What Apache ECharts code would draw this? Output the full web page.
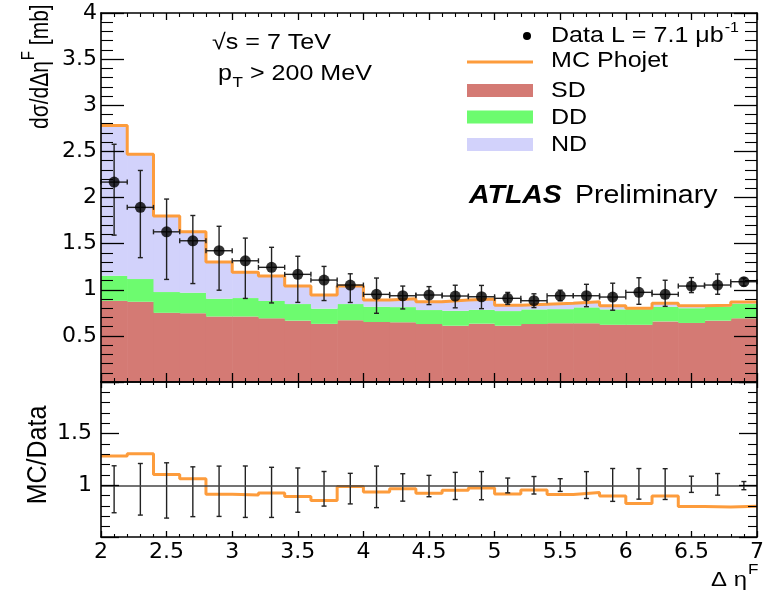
<!DOCTYPE html>
<html>
<head>
<meta charset="utf-8">
<script src="https://cdn.jsdelivr.net/npm/echarts@6/dist/echarts.min.js"></script>
<style>
  html, body { margin: 0; padding: 0; background: #fff; }
  #chart { width: 767px; height: 590px; }
</style>
</head>
<body>
<div id="chart"></div>
<script>
// Forward-gap distribution, bins of 0.2 in Δη^F from 2 to 7
const etaCenters = [2.1, 2.3, 2.5, 2.7, 2.9, 3.1, 3.3, 3.5, 3.7, 3.9, 4.1, 4.3, 4.5,
                    4.7, 4.9, 5.1, 5.3, 5.5, 5.7, 5.9, 6.1, 6.3, 6.5, 6.7, 6.9];
const binHalfWidth = 0.1;

// Phojet components [mb]
const sdValues = [0.88, 0.87, 0.75, 0.745, 0.71, 0.71, 0.69, 0.665, 0.63, 0.67, 0.65, 0.647, 0.628,
                  0.61, 0.632, 0.61, 0.628, 0.636, 0.636, 0.62, 0.62, 0.657, 0.64, 0.665, 0.69];
const ddValues = [0.272, 0.246, 0.225, 0.223, 0.193, 0.20, 0.188, 0.18, 0.165, 0.175, 0.166, 0.165, 0.152,
                  0.162, 0.151, 0.159, 0.159, 0.154, 0.173, 0.167, 0.17, 0.159, 0.16, 0.151, 0.158];
const ndValues = [1.628, 1.354, 0.825, 0.662, 0.397, 0.28, 0.272, 0.195, 0.148, 0.195, 0.072, 0.091, 0.09,
                  0.116, 0.117, 0.062, 0.055, 0.063, 0.061, 0.04, 0.01, 0.037, 0.027, 0.015, 0.019];

// Measured cross section with asymmetric uncertainties
const dataValues = [2.167, 1.893, 1.628, 1.531, 1.423, 1.314, 1.243, 1.167, 1.105, 1.051, 0.95, 0.935, 0.943,
                    0.932, 0.924, 0.907, 0.881, 0.935, 0.935, 0.921, 0.972, 0.95, 1.04, 1.051, 1.087];
const dataErrUp = [0.41, 0.40, 0.355, 0.274, 0.265, 0.246, 0.217, 0.196, 0.148, 0.122, 0.177, 0.105, 0.091,
                   0.117, 0.123, 0.064, 0.075, 0.06, 0.124, 0.15, 0.158, 0.153, 0.092, 0.12, 0.04];
const dataErrDown = [0.575, 0.545, 0.516, 0.464, 0.428, 0.408, 0.386, 0.304, 0.222, 0.189, 0.205, 0.143, 0.104,
                     0.128, 0.129, 0.066, 0.074, 0.055, 0.119, 0.143, 0.13, 0.13, 0.071, 0.1, 0.046];

// Axis tick labels
const xTickLabels = [2, 2.5, 3, 3.5, 4, 4.5, 5, 5.5, 6, 6.5, 7];
const mainYTickLabels = [0.5, 1, 1.5, 2, 2.5, 3, 3.5, 4];
const ratioYTickLabels = [1, 1.5];

const COLORS = { sd: '#d47a74', dd: '#6dfb6f', nd: '#d2d2fb', mc: '#fd9c3c', ink: '#000' };
const TICK_FONT = 'DejaVu Sans';
const TEXT_FONT = 'Liberation Sans';
const SX = 1.14; // horizontal text stretch

const mcTotal = etaCenters.map((_, i) => sdValues[i] + ddValues[i] + ndValues[i]);
const ratio = etaCenters.map((_, i) => mcTotal[i] / dataValues[i]);

function stackRects(lower, values) {
  return etaCenters.map((c, i) => [c - binHalfWidth, c + binHalfWidth, lower[i], lower[i] + values[i]]);
}
const zeros = etaCenters.map(() => 0);
const sdTop = sdValues.slice();
const ddTop = etaCenters.map((_, i) => sdTop[i] + ddValues[i]);

function stepPoints(vals) {
  const pts = [];
  etaCenters.forEach((c, i) => { pts.push([c - binHalfWidth, vals[i]], [c + binHalfWidth, vals[i]]); });
  return pts;
}

function histRender(color) {
  return function (params, api) {
    const p0 = api.coord([api.value(0), api.value(3)]);
    const p1 = api.coord([api.value(1), api.value(2)]);
    return {
      type: 'rect',
      shape: { x: p0[0], y: p0[1], width: p1[0] - p0[0] + 0.6, height: p1[1] - p0[1] },
      style: { fill: color }
    };
  };
}

function errorRender(params, api) {
  const x = api.value(0), y = api.value(1), lo = api.value(2), hi = api.value(3), hw = api.value(4);
  const top = api.coord([x, hi]);
  const bot = api.coord([x, lo]);
  const st = { stroke: '#222', lineWidth: 1.4 };
  const cap = 2.5;
  const kids = [
    { type: 'line', shape: { x1: top[0], y1: top[1], x2: bot[0], y2: bot[1] }, style: st },
    { type: 'line', shape: { x1: top[0] - cap, y1: top[1], x2: top[0] + cap, y2: top[1] }, style: st },
    { type: 'line', shape: { x1: bot[0] - cap, y1: bot[1], x2: bot[0] + cap, y2: bot[1] }, style: st }
  ];
  if (hw > 0) {
    const l = api.coord([x - hw, y]);
    const r = api.coord([x + hw, y]);
    kids.push(
      { type: 'line', shape: { x1: l[0], y1: l[1], x2: r[0], y2: r[1] }, style: st },
      { type: 'line', shape: { x1: l[0], y1: l[1] - cap, x2: l[0], y2: l[1] + cap }, style: st },
      { type: 'line', shape: { x1: r[0], y1: r[1] - cap, x2: r[0], y2: r[1] + cap }, style: st }
    );
  }
  return { type: 'group', children: kids };
}

const dataErrItems = etaCenters.map((c, i) =>
  [c, dataValues[i], dataValues[i] - dataErrDown[i], dataValues[i] + dataErrUp[i], binHalfWidth]);
const ratioErrItems = etaCenters.map((c, i) =>
  [c, 1, 1 - dataErrDown[i] / dataValues[i], 1 + dataErrUp[i] / dataValues[i], 0]);

// text measuring for multi-part labels
const measureCtx = document.createElement('canvas').getContext('2d');
function textWidth(t, font) { measureCtx.font = font; return measureCtx.measureText(t).width; }
function fontStr(size, extra) { return (extra ? extra + ' ' : '') + size + 'px "' + TEXT_FONT + '"'; }

// horizontal run of text pieces (sub/superscripts via dy)
function textRun(x0, yMid, parts, sx) {
  const els = [];
  let x = x0;
  parts.forEach(p => {
    const font = fontStr(p.size, p.extra);
    els.push({
      type: 'text', x: x, y: yMid + (p.dy || 0), scaleX: sx, z: 100,
      style: { text: p.t, font: font, fill: COLORS.ink, align: 'left', verticalAlign: 'middle' }
    });
    x += textWidth(p.t, font) * sx + (p.gap || 0);
  });
  return els;
}

// vertical (bottom-to-top) run of text pieces
function verticalRun(xMid, yStart, parts, sy) {
  const kids = [];
  let x = 0;
  parts.forEach(p => {
    const font = fontStr(p.size, p.extra);
    kids.push({
      type: 'text', x: x, y: (p.dy || 0),
      style: { text: p.t, font: font, fill: COLORS.ink, align: 'left', verticalAlign: 'middle' }
    });
    x += textWidth(p.t, font) + (p.gap || 0);
  });
  return { type: 'group', x: xMid, y: yStart, rotation: Math.PI / 2, scaleY: sy, z: 100, children: kids };
}

const graphics = [];
// collision energy and track cut
graphics.push(...textRun(212, 43, [{ t: '√s = 7 TeV', size: 22 }], SX));
graphics.push(...textRun(218, 74, [
  { t: 'p', size: 22, gap: 0.5 },
  { t: 'T', size: 15, dy: 9, gap: 7 },
  { t: '> 200 MeV', size: 22 }
], SX));
// ATLAS label
graphics.push(...textRun(469, 196, [
  { t: 'ATLAS', size: 25, extra: 'italic bold', gap: 13 },
  { t: 'Preliminary', size: 25 }
], SX));

// legend
graphics.push({ type: 'circle', shape: { cx: 527, cy: 36, r: 4 }, style: { fill: COLORS.ink }, z: 100 });
graphics.push({ type: 'line', shape: { x1: 467, y1: 62, x2: 533, y2: 62 }, style: { stroke: COLORS.mc, lineWidth: 3 }, z: 100 });
graphics.push({ type: 'rect', shape: { x: 467, y: 84, width: 66, height: 13 }, style: { fill: COLORS.sd }, z: 100 });
graphics.push({ type: 'rect', shape: { x: 467, y: 110.5, width: 66, height: 13 }, style: { fill: COLORS.dd }, z: 100 });
graphics.push({ type: 'rect', shape: { x: 467, y: 138, width: 66, height: 13 }, style: { fill: COLORS.nd }, z: 100 });
graphics.push(...textRun(551, 36, [
  { t: 'Data L = 7.1 μb', size: 22, gap: 1 },
  { t: '-1', size: 14, dy: -8 }
], SX));
graphics.push(...textRun(551, 61, [{ t: 'MC Phojet', size: 22 }], SX));
graphics.push(...textRun(551, 90.5, [{ t: 'SD', size: 22 }], SX));
graphics.push(...textRun(551, 117.5, [{ t: 'DD', size: 22 }], SX));
graphics.push(...textRun(551, 145, [{ t: 'ND', size: 22 }], SX));

// axis titles
graphics.push(verticalRun(41, 129, [
  { t: 'dσ/dΔη', size: 21, gap: 1 },
  { t: 'F', size: 15, dy: -10, gap: 0 },
  { t: ' [mb]', size: 21 }
], 1.2));
(function () {
  const font = fontStr(25);
  const w = textWidth('MC/Data', font);
  graphics.push(verticalRun(38, 455 + w / 2, [{ t: 'MC/Data', size: 25 }], SX));
})();
graphics.push(...textRun(711, 580, [
  { t: 'Δ η', size: 21, gap: 1 },
  { t: 'F', size: 15, dy: -10 }
], SX));

const GL = 101, GW = 656, T1 = 13, H1 = 369, T2 = 382, H2 = 155;

function xAxisCfg(grid, pos, major, minor, showLabels) {
  return {
    type: 'value', gridIndex: grid, position: pos, min: 2, max: 7, interval: 0.5, z: 10,
    axisLine: { show: true, onZero: false, lineStyle: { color: COLORS.ink, width: 1.6 } },
    axisTick: { show: true, inside: true, length: major, lineStyle: { color: COLORS.ink, width: 1.3 } },
    minorTick: { show: true, splitNumber: 5, length: minor, lineStyle: { color: COLORS.ink, width: 1.1 } },
    splitLine: { show: false },
    axisLabel: {
      show: showLabels, margin: 4, color: COLORS.ink, fontFamily: TICK_FONT, fontSize: 22,
      formatter: v => (xTickLabels.indexOf(v) >= 0 ? String(v) : '')
    }
  };
}
function yAxisCfg(grid, pos, min, max, major, minor, labels, margin) {
  return {
    type: 'value', gridIndex: grid, position: pos, min: min, max: max, interval: 0.5, z: 10,
    axisLine: { show: true, onZero: false, lineStyle: { color: COLORS.ink, width: 1.6 } },
    axisTick: { show: true, inside: true, length: major, lineStyle: { color: COLORS.ink, width: 1.3 } },
    minorTick: { show: true, splitNumber: 5, length: minor, lineStyle: { color: COLORS.ink, width: 1.1 } },
    splitLine: { show: false },
    axisLabel: {
      show: !!labels, margin: margin, color: COLORS.ink, fontFamily: TICK_FONT, fontSize: 22,
      formatter: v => (labels && labels.indexOf(v) >= 0 ? String(v) : '')
    }
  };
}

const option = {
  animation: false,
  backgroundColor: '#fff',
  grid: [
    { left: GL, top: T1, width: GW, height: H1, show: false },
    { left: GL, top: T2, width: GW, height: H2, show: false }
  ],
  xAxis: [
    xAxisCfg(0, 'bottom', 9, 4, false),
    xAxisCfg(0, 'top', 7, 4, false),
    xAxisCfg(1, 'bottom', 6, 3, true),
    xAxisCfg(1, 'top', 6, 3, false)
  ],
  yAxis: [
    yAxisCfg(0, 'left', 0, 4, 23, 12, mainYTickLabels, 4),
    yAxisCfg(0, 'right', 0, 4, 23, 12, null, 4),
    yAxisCfg(1, 'left', 0.5, 2, 18, 9, ratioYTickLabels, 9),
    yAxisCfg(1, 'right', 0.5, 2, 18, 9, null, 4)
  ],
  graphic: graphics,
  series: [
    {
      name: 'SD', type: 'custom', xAxisIndex: 0, yAxisIndex: 0, z: 2,
      renderItem: histRender(COLORS.sd), encode: { x: [0, 1], y: [2, 3] },
      data: stackRects(zeros, sdValues)
    },
    {
      name: 'DD', type: 'custom', xAxisIndex: 0, yAxisIndex: 0, z: 2,
      renderItem: histRender(COLORS.dd), encode: { x: [0, 1], y: [2, 3] },
      data: stackRects(sdTop, ddValues)
    },
    {
      name: 'ND', type: 'custom', xAxisIndex: 0, yAxisIndex: 0, z: 2,
      renderItem: histRender(COLORS.nd), encode: { x: [0, 1], y: [2, 3] },
      data: stackRects(ddTop, ndValues)
    },
    {
      name: 'MC Phojet', type: 'line', xAxisIndex: 0, yAxisIndex: 0, z: 3,
      symbol: 'none', lineStyle: { color: COLORS.mc, width: 3 },
      data: stepPoints(mcTotal)
    },
    {
      name: 'Data errors', type: 'custom', xAxisIndex: 0, yAxisIndex: 0, z: 4,
      renderItem: errorRender, encode: { x: 0, y: [2, 3] },
      data: dataErrItems
    },
    {
      name: 'Data', type: 'scatter', xAxisIndex: 0, yAxisIndex: 0, z: 5,
      symbol: 'circle', symbolSize: 11, itemStyle: { color: COLORS.ink },
      data: etaCenters.map((c, i) => [c, dataValues[i]])
    },
    {
      name: 'Data ratio errors', type: 'custom', xAxisIndex: 2, yAxisIndex: 2, z: 4,
      renderItem: errorRender, encode: { x: 0, y: [2, 3] },
      data: ratioErrItems,
      markLine: {
        silent: true, symbol: 'none', label: { show: false },
        lineStyle: { color: '#444', width: 1.5, type: 'solid' },
        data: [{ yAxis: 1 }]
      }
    },
    {
      name: 'MC/Data', type: 'line', xAxisIndex: 2, yAxisIndex: 2, z: 3,
      symbol: 'none', lineStyle: { color: COLORS.mc, width: 3 },
      data: stepPoints(ratio)
    }
  ]
};

const chart = echarts.init(document.getElementById('chart'), null, { renderer: 'canvas' });
chart.setOption(option);
</script>
</body>
</html>
